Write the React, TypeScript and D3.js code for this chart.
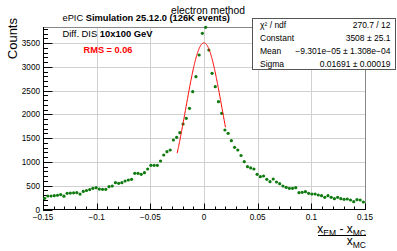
import React from "react";
import * as d3 from "d3";

const BIN_LOW = -0.15;
const BIN_WIDTH = 0.003;
const counts = [
  236, 284, 284, 291, 300, 315, 280, 340, 345, 350,
  355, 325, 380, 400, 420, 445, 460, 430, 425, 425,
  480, 495, 564, 551, 564, 600, 621, 636, 762, 762,
  741, 775, 853, 930, 930, 930, 1021, 1147, 1217, 1253,
  1463, 1520, 1617, 1800, 1920, 2130, 2480, 2796, 3253, 3709,
  3836, 3358, 2867, 2585, 2269, 2025, 1674, 1604, 1448, 1309,
  1253, 1137, 1006, 901, 875, 853, 741, 690, 705, 636,
  585, 642, 579, 543, 495, 467, 446, 446, 459, 354,
  362, 375, 341, 326, 326, 305, 291, 257, 291, 257,
  227, 257, 227, 215, 221, 200, 164, 206, 200, 158,
];
const xTicks = [-0.15, -0.1, -0.05, 0, 0.05, 0.1, 0.15];
const xTickLabels = ["\u22120.15", "\u22120.1", "\u22120.05", "0", "0.05", "0.1", "0.15"];
const yTicks = [0, 500, 1000, 1500, 2000, 2500, 3000, 3500];
const fitConstant = 3508;
const fitMean = -9.301e-5;
const fitSigma = 0.01691;
const fitRange = [-0.025, 0.02];
const statsLabels = ["\u03C7\u00B2 / ndf", "Constant", "Mean", "Sigma"];
const statsValues = ["270.7 / 12", "3508 \u00B1 25.1", "\u22129.301e\u221205 \u00B1 1.308e\u221204", "0.01691 \u00B1 0.00019"];

const FONT = "'Liberation Sans', Arial, Helvetica, sans-serif";

export default function App() {
  const W = 397, H = 251;
  const L = 43, R = 365, T = 27, B = 209.5;
  const x = d3.scaleLinear().domain([-0.15, 0.15]).range([L, R]);
  const y = d3.scaleLinear().domain([0, 3842]).range([B, T]);

  const xMinor = d3.range(-15, 16).map((k) => k * 0.01);
  const yMinor = d3.range(0, 39).map((k) => k * 100);

  const fitPts = d3.range(0, 201).map((k) => {
    const xv = fitRange[0] + ((fitRange[1] - fitRange[0]) * k) / 200;
    return [xv, fitConstant * Math.exp(-0.5 * ((xv - fitMean) / fitSigma) ** 2)] as [number, number];
  });
  const line = d3.line<[number, number]>().x((d) => x(d[0])).y((d) => y(d[1]));

  const points = counts.map((c, i) => ({ xv: BIN_LOW + BIN_WIDTH * (i + 0.5), c }));

  return (
    <svg width={W} height={H} style={{ position: "absolute", left: 0, top: 0, background: "#fff" }} fontFamily={FONT}>
      <rect x={0} y={0} width={W} height={H} fill="#fff" />
      {/* grid */}
      {xTicks.slice(1, -1).map((t) => (
        <line key={"gx" + t} x1={Math.round(x(t)) + 0.5} x2={Math.round(x(t)) + 0.5} y1={T} y2={B} stroke="#d0d0d0" />
      ))}
      {yTicks.slice(1).map((t) => (
        <line key={"gy" + t} x1={L} x2={R} y1={Math.round(y(t)) + 0.5} y2={Math.round(y(t)) + 0.5} stroke="#d0d0d0" />
      ))}
      {/* frame */}
      <line x1={L} x2={R} y1={T + 0.5} y2={T + 0.5} stroke="#888" />
      <line x1={R + 0.5} x2={R + 0.5} y1={T} y2={B} stroke="#888" />
      <line x1={L + 0.5} x2={L + 0.5} y1={T} y2={B + 0.5} stroke="#000" />
      <line x1={L} x2={R + 1} y1={B} y2={B} stroke="#000" />
      {/* x ticks */}
      {xMinor.map((t, i) => {
        const major = i % 5 === 0;
        const px = Math.round(x(t)) + 0.5;
        return <line key={"xt" + i} x1={px} x2={px} y1={B} y2={B - (major ? 6 : 3)} stroke="#000" />;
      })}
      {xTicks.map((t, i) => (
        <text key={"xl" + t} x={x(t)} y={219.5} fontSize={8.2} textAnchor="middle" fill="#000">
          {xTickLabels[i]}
        </text>
      ))}
      {/* y ticks */}
      {yMinor.map((t, i) => {
        const major = i % 5 === 0;
        const py = Math.round(y(t)) + 0.5;
        return <line key={"yt" + i} x1={L} x2={L + (major ? 9.5 : 5)} y1={py} y2={py} stroke="#000" />;
      })}
      {yTicks.map((t) => (
        <text key={"yl" + t} x={40} y={y(t) + 3} fontSize={8.2} textAnchor="end" fill="#000">
          {t}
        </text>
      ))}
      {/* axis titles */}
      <text transform="translate(17,18) rotate(-90)" fontSize={13} textAnchor="end" fill="#000">
        Counts
      </text>
      <g fontSize={12} fill="#000">
        <text x={366} y={233} textAnchor="end">
          <tspan>x</tspan>
          <tspan fontSize={8.5} dy={2.5}>EM</tspan>
          <tspan dy={-2.5}> - x</tspan>
          <tspan fontSize={8.5} dy={2.5}>MC</tspan>
        </text>
        <line x1={318} x2={366} y1={235.5} y2={235.5} stroke="#000" />
        <text x={366} y={245} textAnchor="end">
          <tspan>x</tspan>
          <tspan fontSize={8.5} dy={2.5}>MC</tspan>
        </text>
      </g>
      {/* data */}
      {points.map((p, i) => (
        <circle key={"p" + i} cx={x(p.xv)} cy={y(p.c)} r={1.6} fill="#0f7a0f" />
      ))}
      <path d={line(fitPts) || ""} fill="none" stroke="#ff0000" strokeWidth={1} />
      {/* labels */}
      <text x={208} y={13.5} fontSize={10.3} textAnchor="middle" fill="#000">
        electron method
      </text>
      <text x={62.5} y={20.5} fontSize={9.3} fill="#000">
        <tspan>ePIC </tspan>
        <tspan fontWeight="bold">Simulation 25.12.0 (126K events)</tspan>
      </text>
      <text x={62.5} y={37.3} fontSize={9.4} fill="#000">
        <tspan>Diff. DIS </tspan>
        <tspan fontWeight="bold">10x100 GeV</tspan>
      </text>
      <text x={108} y={53.3} fontSize={9.2} fontWeight="bold" textAnchor="middle" fill="#ff0000">
        RMS = 0.06
      </text>
      {/* stats box */}
      <rect x={252.5} y={18.5} width={143} height={51} fill="#fff" stroke="#555" />
      {statsLabels.map((s, i) => (
        <g key={"st" + i} fontSize={8.5} fill="#000">
          <text x={260} y={27.5 + i * 13}>{s}</text>
          <text x={390.5} y={27.5 + i * 13} textAnchor="end">{statsValues[i]}</text>
        </g>
      ))}
    </svg>
  );
}
